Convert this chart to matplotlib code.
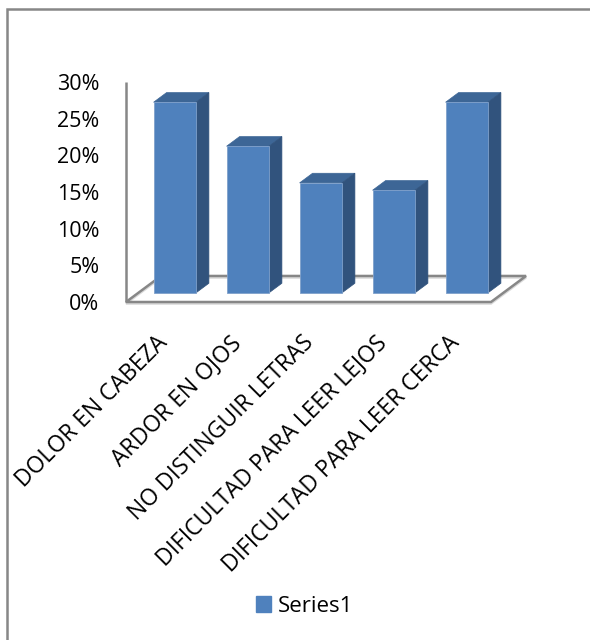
import matplotlib
matplotlib.use("Agg")
import matplotlib.pyplot as plt
from matplotlib.patches import Polygon, Rectangle, Patch
from matplotlib import transforms
import numpy as np

plt.rcParams['font.family'] = ['Open Sans', 'DejaVu Sans']

categories = ["DOLOR EN CABEZA", "ARDOR EN OJOS", "NO DISTINGUIR LETRAS",
              "DIFICULTAD PARA LEER LEJOS", "DIFICULTAD PARA LEER CERCA"]
values = [26, 20, 15, 14, 26]
yticks = [0, 5, 10, 15, 20, 25, 30]
series_name = "Series1"

FRONT = "#4F81BD"
TOP = "#3D6696"
SIDE = "#31537D"
GRAY = "#878787"

fig = plt.figure(figsize=(5.9, 6.4), dpi=100)
W, H = 590, 640
ax = fig.add_axes([126 / W, 1 - 302 / H, 365 / W, 220 / H])
ax.set_xlim(-0.5, len(categories) - 0.5)
ax.set_ylim(0, 30)
for s in ax.spines.values():
    s.set_visible(False)

# depth vector (full floor depth) in data units
DX, DY = 0.48, 3.55
f0, f1 = 0.35, 0.72

x = np.arange(len(categories))
xl, xr = -0.5, len(categories) - 0.5

# floor (with soft shadow)
shadow_off = transforms.offset_copy(ax.transData, fig=fig, x=0, y=-1.2, units='points')
floor_pts = [(xl, 0), (xr, 0), (xr + DX, DY), (xl + DX, DY)]
ax.add_patch(Polygon(floor_pts, closed=True, facecolor="none", edgecolor="#D9D9D9",
                     lw=1.6, zorder=0.9, clip_on=False, transform=shadow_off))
ax.add_patch(Polygon(floor_pts, closed=True, facecolor="none", edgecolor=GRAY,
                     lw=1.8, zorder=1, clip_on=False, joinstyle='miter'))
ax.plot([xl, xl], [0, 30], color=GRAY, lw=1.8, zorder=1, clip_on=False,
        solid_capstyle='butt')

# bars (front faces)
w = 0.58
bars = ax.bar(x + f0 * DX, values, width=w, bottom=f0 * DY, color=FRONT,
              edgecolor="#7FA0CB", linewidth=0.6, zorder=3, clip_on=False)
ddx, ddy = (f1 - f0) * DX, (f1 - f0) * DY
for b in bars:
    x0, y0 = b.get_x(), b.get_y()
    x1, y1 = x0 + b.get_width(), y0 + b.get_height()
    top = Polygon([(x0, y1), (x1, y1), (x1 + ddx, y1 + ddy), (x0 + ddx, y1 + ddy)],
                  closed=True, facecolor=TOP, edgecolor=TOP, lw=0.5, zorder=2,
                  clip_on=False)
    side = Polygon([(x1, y0), (x1, y1), (x1 + ddx, y1 + ddy), (x1 + ddx, y0 + ddy)],
                   closed=True, facecolor=SIDE, edgecolor=SIDE, lw=0.5, zorder=2,
                   clip_on=False)
    ax.add_patch(top)
    ax.add_patch(side)

# y ticks
ax.set_yticks(yticks)
ax.set_yticklabels([f"{t}%" for t in yticks], fontsize=15.5)
ax.tick_params(axis='y', length=0, pad=19)
ax.set_xticks([])

# category labels
tr = transforms.offset_copy(ax.get_xaxis_transform(), fig=fig, x=1.5, y=-27,
                            units='points')
for xi, lab in zip(x, categories):
    ax.text(xi, 0, lab, transform=tr, rotation=45, ha='right', va='center',
            rotation_mode='anchor', fontsize=16.5)

# legend
fig.legend(handles=[Patch(facecolor=FRONT, edgecolor=FRONT)], labels=[series_name],
           loc='center', bbox_to_anchor=(0.516, 1 - 606 / H), frameon=False,
           fontsize=16, handlelength=0.7, handleheight=0.7, handletextpad=0.3)

# outer border
fig.patches.append(Rectangle((7 / W, -0.1), 2.0, 1.1 - 9 / H, transform=fig.transFigure,
                             facecolor='none', edgecolor=GRAY, lw=1.8))

fig.savefig("out.png", dpi=100)
